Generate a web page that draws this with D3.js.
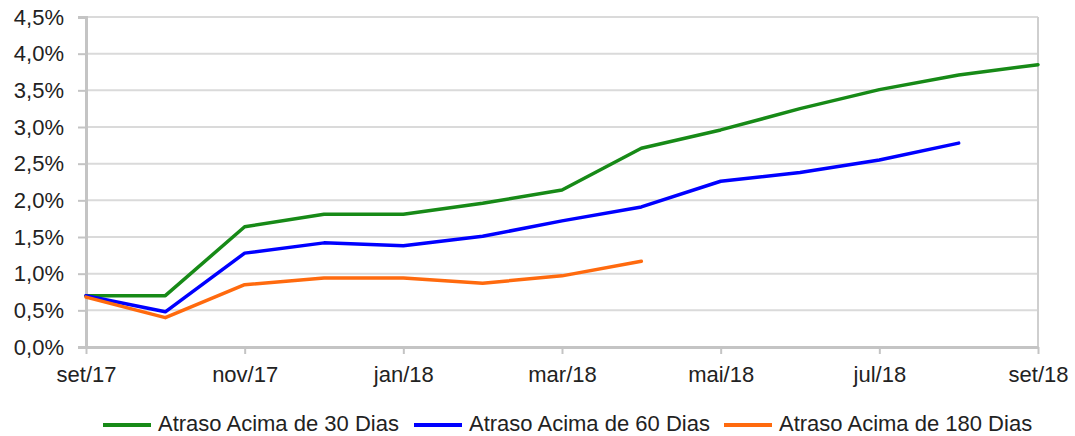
<!DOCTYPE html>
<html>
<head>
<meta charset="utf-8">
<script src="https://cdn.jsdelivr.net/npm/d3@7.9.0/dist/d3.min.js"></script>
<style>
  body { margin: 0; background: #fff; }
  svg text { font-family: "Liberation Sans", Arial, sans-serif; fill: #222; }
</style>
</head>
<body>
<svg id="chart" width="1075" height="436"></svg>
<script>
// months from set/17 to set/18
const months = ['set/17', 'out/17', 'nov/17', 'dez/17', 'jan/18', 'fev/18', 'mar/18',
                'abr/18', 'mai/18', 'jun/18', 'jul/18', 'ago/18', 'set/18'];
const tickMonths = ['set/17', 'nov/17', 'jan/18', 'mar/18', 'mai/18', 'jul/18', 'set/18'];
const yTicks = [0, 0.5, 1, 1.5, 2, 2.5, 3, 3.5, 4, 4.5];

const atraso30 = [0.70, 0.70, 1.64, 1.81, 1.81, 1.96, 2.14, 2.71, 2.96, 3.25, 3.51, 3.71, 3.85];
const atraso60 = [0.70, 0.48, 1.28, 1.42, 1.38, 1.51, 1.72, 1.91, 2.26, 2.38, 2.55, 2.78];
const atraso180 = [0.68, 0.40, 0.85, 0.94, 0.94, 0.87, 0.97, 1.17];

const series = [
    { name: 'Atraso Acima de 30 Dias', values: atraso30, color: '#178a17' },
    { name: 'Atraso Acima de 60 Dias', values: atraso60, color: '#0000ff' },
    { name: 'Atraso Acima de 180 Dias', values: atraso180, color: '#ff6a0e' },
];

const margin = { top: 17, right: 37, bottom: 89, left: 86 };
const svg = d3.select('#chart');
const width = 1075 - margin.left - margin.right;
const height = 436 - margin.top - margin.bottom;

const g = svg.append('g').attr('transform', `translate(${margin.left},${margin.top})`);

let x = d3.scalePoint().domain(months).range([0, width]);
let y = d3.scaleLinear().domain([0, 4.5]).range([height, 0]);

// gridlines
g.selectAll('.grid')
    .data(yTicks.slice(1))
    .join('line')
    .attr('x1', 0)
    .attr('x2', width)
    .attr('y1', (d) => y(d))
    .attr('y2', (d) => y(d))
    .attr('stroke', '#dadada')
    .attr('stroke-width', 2);

// right border
g.append('line')
    .attr('x1', width).attr('x2', width)
    .attr('y1', 0).attr('y2', height)
    .attr('stroke', '#cfcfcf').attr('stroke-width', 2);

// y axis
let yAxis = g.append('g')
    .call(d3.axisLeft(y).tickValues(yTicks).tickSize(8).tickPadding(14)
        .tickFormat((d) => d3.format('.1f')(d).replace('.', ',') + '%'));
yAxis.select('.domain').attr('stroke', '#c4c4c4').attr('stroke-width', 3);
yAxis.selectAll('.tick line').attr('stroke', '#c4c4c4').attr('stroke-width', 2);
yAxis.selectAll('text').style('font-size', '22px').attr('fill', '#222');

// x axis
let xAxis = g.append('g')
    .attr('transform', `translate(0,${height})`)
    .call(d3.axisBottom(x).tickValues(tickMonths).tickSize(7).tickPadding(12).tickSizeOuter(0));
xAxis.select('.domain').attr('stroke', '#c4c4c4').attr('stroke-width', 3);
xAxis.selectAll('.tick line').attr('stroke', '#c4c4c4').attr('stroke-width', 2);
xAxis.selectAll('text').style('font-size', '22px').attr('fill', '#222');

// lines
let line = d3.line()
    .x((d, i) => x(months[i]))
    .y((d) => y(d));

series.forEach((s) => {
    g.append('path')
        .datum(s.values)
        .attr('d', line)
        .attr('fill', 'none')
        .attr('stroke', s.color)
        .attr('stroke-width', 3.5)
        .attr('stroke-linejoin', 'round')
        .attr('stroke-linecap', 'round');
});

// legend
const legendX = [103, 414, 724];
let legend = svg.append('g').attr('transform', 'translate(0,425)');
series.forEach((s, i) => {
    legend.append('line')
        .attr('x1', legendX[i]).attr('x2', legendX[i] + 48)
        .attr('y1', 0).attr('y2', 0)
        .attr('stroke', s.color).attr('stroke-width', 4);
    legend.append('text')
        .attr('x', legendX[i] + 55)
        .attr('y', 6)
        .style('font-size', '22px')
        .text(s.name);
});
</script>
</body>
</html>
